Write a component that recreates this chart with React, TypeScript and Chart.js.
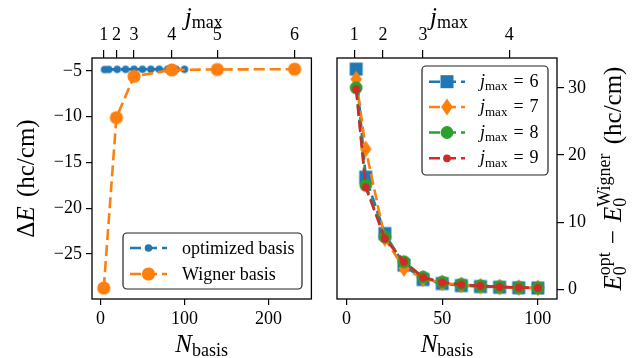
import React, { useEffect, useRef } from "react";
import { Chart, registerables } from "chart.js";
Chart.register(...registerables);

const SERIF = "'Liberation Serif', 'Times New Roman', 'DejaVu Serif', serif";
const BLUE = "#1f77b4";
const ORANGE = "#ff7f0e";
const GREEN = "#2ca02c";
const RED = "#d62728";

// ---------- Left panel data ----------
const optN = [5, 10, 20, 30, 40, 50, 60, 70, 80, 90, 100];
const optDeltaE = [-4.86, -4.85, -4.84, -4.84, -4.83, -4.83, -4.83, -4.83, -4.83, -4.83, -4.83];
const wignerN = [4, 19, 40, 85, 139, 231];
const wignerDeltaE = [-28.7, -10.1, -5.6, -4.9, -4.85, -4.82];
const jmaxTickN = [4, 19, 40, 85, 139, 231];
const jmaxTickLabels = ["1", "2", "3", "4", "5", "6"];
const leftXTicks = [0, 100, 200];
const leftYTicks = [-25, -20, -15, -10, -5];
const leftLegendLabels = ["optimized basis", "Wigner basis"];

// ---------- Right panel data ----------
const diffN = [5, 10, 20, 30, 40, 50, 60, 70, 80, 90, 100];
const diffJmax6 = [32.8, 16.7, 8.3, 3.6, 1.45, 0.85, 0.55, 0.4, 0.3, 0.22, 0.18];
const diffJmax7 = [31.3, 20.9, 7.6, 3.1, 1.6, 0.95, 0.65, 0.45, 0.33, 0.25, 0.2];
const diffJmax8 = [30.0, 15.5, 7.8, 4.1, 1.8, 1.05, 0.72, 0.5, 0.37, 0.27, 0.22];
const diffJmax9 = [29.8, 15.2, 7.55, 4.1, 1.75, 1.0, 0.7, 0.5, 0.35, 0.25, 0.2];
const rightXTicks = [0, 50, 100];
const rightYTicks = [0, 10, 20, 30];
const rightLegendValues = ["6", "7", "8", "9"];

const TICK_SIZE = 18;
const LABEL_SIZE = 25;
const LABEL_SUB = 18;

type P = { t?: string; sz?: number; it?: boolean; dy?: number; gap?: number; stack?: P[] };

function fnt(p: P) {
  return `${p.it ? "italic " : ""}${p.sz}px ${SERIF}`;
}
function pw(ctx: CanvasRenderingContext2D, p: P): number {
  if (p.gap != null) return p.gap;
  if (p.stack) return Math.max(...p.stack.map((q) => pw(ctx, q)));
  ctx.font = fnt(p);
  return ctx.measureText(p.t || "").width;
}
function drawPieces(ctx: CanvasRenderingContext2D, ps: P[], x: number, y: number) {
  for (const p of ps) {
    if (p.stack) {
      for (const q of p.stack) drawPieces(ctx, [q], x, y);
    } else if (p.t) {
      ctx.font = fnt(p);
      ctx.fillText(p.t, x, y + (p.dy || 0));
    }
    x += pw(ctx, p);
  }
}
function rich(ctx: CanvasRenderingContext2D, ps: P[], cx: number, cy: number, angle = 0, align = "center") {
  ctx.save();
  ctx.translate(cx, cy);
  ctx.rotate(angle);
  ctx.fillStyle = "#000";
  ctx.textBaseline = "alphabetic";
  ctx.textAlign = "left";
  const w = ps.reduce((s, p) => s + pw(ctx, p), 0);
  drawPieces(ctx, ps, align === "center" ? -w / 2 : 0, 0);
  ctx.restore();
}

type MK = "dotS" | "dotL" | "square" | "thinDiamond" | "circle" | "smallCircle";
function drawMarker(ctx: CanvasRenderingContext2D, kind: MK, x: number, y: number, color: string) {
  ctx.save();
  ctx.fillStyle = color;
  ctx.beginPath();
  switch (kind) {
    case "dotS":
      ctx.arc(x, y, 3.8, 0, Math.PI * 2);
      break;
    case "dotL":
      ctx.arc(x, y, 6.6, 0, Math.PI * 2);
      break;
    case "square":
      ctx.rect(x - 6.5, y - 6.5, 13, 13);
      break;
    case "thinDiamond":
      ctx.moveTo(x, y - 8.5);
      ctx.lineTo(x + 5.8, y);
      ctx.lineTo(x, y + 8.5);
      ctx.lineTo(x - 5.8, y);
      ctx.closePath();
      break;
    case "circle":
      ctx.arc(x, y, 6.4, 0, Math.PI * 2);
      break;
    case "smallCircle":
      ctx.arc(x, y, 3.9, 0, Math.PI * 2);
      break;
  }
  ctx.fill();
  ctx.restore();
}
function markerCanvas(kind: MK, color: string) {
  const c = document.createElement("canvas");
  c.width = 20;
  c.height = 20;
  const ctx = c.getContext("2d")!;
  drawMarker(ctx, kind, 10, 10, color);
  return c;
}

function frame(chart: any) {
  const { ctx, chartArea: a } = chart;
  ctx.save();
  ctx.strokeStyle = "#000";
  ctx.lineWidth = 1.3;
  ctx.strokeRect(a.left, a.top, a.right - a.left, a.bottom - a.top);
  ctx.restore();
}

function legendBox(ctx: CanvasRenderingContext2D, x: number, y: number, w: number, h: number) {
  ctx.save();
  ctx.fillStyle = "rgba(255,255,255,0.9)";
  ctx.strokeStyle = "#222";
  ctx.lineWidth = 1.2;
  ctx.beginPath();
  (ctx as any).roundRect(x, y, w, h, 4);
  ctx.fill();
  ctx.stroke();
  ctx.restore();
}
function legendLine(ctx: CanvasRenderingContext2D, x1: number, x2: number, y: number, color: string, kind: MK) {
  ctx.save();
  ctx.strokeStyle = color;
  ctx.lineWidth = 2.6;
  ctx.setLineDash([11, 5]);
  ctx.beginPath();
  ctx.moveTo(x1, y);
  ctx.lineTo(x2, y);
  ctx.stroke();
  ctx.restore();
  drawMarker(ctx, kind, (x1 + x2) / 2, y, color);
}

const fixedTicks = (vals: number[]) => (s: any) => {
  s.ticks = vals.filter((v) => v >= s.min && v <= s.max).map((v) => ({ value: v }));
};
const minusFmt = (v: any) => String(v).replace("-", "\u2212");

function tickFont() {
  return { family: SERIF, size: TICK_SIZE };
}

function axisCommon(tickLen: number) {
  return {
    grid: { drawOnChartArea: false, drawTicks: true, tickLength: tickLen, color: "#000", lineWidth: 1.2 },
    border: { display: false },
  };
}

const nBasisLabel: P[] = [
  { t: "N", it: true, sz: LABEL_SIZE },
  { t: "basis", sz: LABEL_SUB, dy: 4 },
];
const jmaxLabel: P[] = [
  { t: "j", it: true, sz: LABEL_SIZE },
  { t: "max", sz: LABEL_SUB, dy: 3 },
];

function LeftPanel() {
  const ref = useRef<HTMLCanvasElement>(null);
  useEffect(() => {
    const plugin = {
      id: "leftDecor",
      afterDraw(chart: any) {
        const ctx = chart.ctx as CanvasRenderingContext2D;
        const a = chart.chartArea;
        frame(chart);
        legendBox(ctx, 123, 233, 179, 56);
        legendLine(ctx, 130, 167, 248, BLUE, "dotS");
        legendLine(ctx, 130, 167, 274, ORANGE, "dotL");
        ctx.save();
        ctx.fillStyle = "#000";
        ctx.font = `${TICK_SIZE}px ${SERIF}`;
        ctx.textBaseline = "middle";
        ctx.fillText(leftLegendLabels[0], 182, 249);
        ctx.fillText(leftLegendLabels[1], 182, 275);
        ctx.restore();
        const cx = (a.left + a.right) / 2;
        rich(ctx, nBasisLabel, cx, 352);
        rich(ctx, jmaxLabel, cx + 2, 25);
        rich(
          ctx,
          [
            { t: "\u0394", sz: LABEL_SIZE },
            { t: "E", it: true, sz: LABEL_SIZE },
            { gap: 3 },
            { t: " (hc/cm)", sz: LABEL_SIZE },
          ],
          34,
          (a.top + a.bottom) / 2,
          -Math.PI / 2
        );
      },
    };
    const chart = new Chart(ref.current!, {
      type: "line",
      data: {
        datasets: [
          {
            label: leftLegendLabels[0],
            data: optN.map((n, i) => ({ x: n, y: optDeltaE[i] })),
            borderColor: BLUE,
            backgroundColor: BLUE,
            borderWidth: 2.6,
            borderDash: [11, 5],
            pointStyle: markerCanvas("dotS", BLUE) as any,
            pointRadius: 4,
            order: 2,
          },
          {
            label: leftLegendLabels[1],
            data: wignerN.map((n, i) => ({ x: n, y: wignerDeltaE[i] })),
            borderColor: ORANGE,
            backgroundColor: ORANGE,
            borderWidth: 2.6,
            borderDash: [11, 5],
            pointStyle: markerCanvas("dotL", ORANGE) as any,
            pointRadius: 6,
            order: 1,
          },
        ],
      },
      options: {
        responsive: false,
        devicePixelRatio: 1,
        animation: false,
        layout: { padding: { left: 0, right: 8, top: 0, bottom: 0 } },
        plugins: { legend: { display: false }, tooltip: { enabled: false } },
        scales: {
          x: {
            type: "linear",
            position: "bottom",
            min: -10,
            max: 251,
            afterBuildTicks: fixedTicks(leftXTicks),
            afterFit: (s: any) => {
              s.height = 59;
            },
            ticks: { font: tickFont(), color: "#000", padding: 3, maxRotation: 0, callback: minusFmt },
            ...axisCommon(6),
          },
          xTop: {
            type: "linear",
            position: "top",
            min: -10,
            max: 251,
            afterBuildTicks: fixedTicks(jmaxTickN),
            afterFit: (s: any) => {
              s.height = 58;
            },
            ticks: {
              font: tickFont(),
              color: "#000",
              padding: 4,
              maxRotation: 0,
              callback: (v: any) => jmaxTickLabels[jmaxTickN.indexOf(v)] ?? "",
            },
            ...axisCommon(8),
          },
          y: {
            type: "linear",
            position: "left",
            min: -29.9,
            max: -3.6,
            afterBuildTicks: fixedTicks(leftYTicks),
            afterFit: (s: any) => {
              s.width = 92;
            },
            ticks: { font: tickFont(), color: "#000", padding: 4, callback: minusFmt },
            ...axisCommon(6),
          },
        },
      },
      plugins: [plugin],
    } as any);
    return () => chart.destroy();
  }, []);
  return <canvas ref={ref} width={320} height={358} style={{ position: "absolute", left: 0, top: 0 }} />;
}

function RightPanel() {
  const ref = useRef<HTMLCanvasElement>(null);
  useEffect(() => {
    const series = [
      { vals: diffJmax6, color: BLUE, kind: "square" as MK, order: 4 },
      { vals: diffJmax7, color: ORANGE, kind: "thinDiamond" as MK, order: 3 },
      { vals: diffJmax8, color: GREEN, kind: "circle" as MK, order: 2 },
      { vals: diffJmax9, color: RED, kind: "smallCircle" as MK, order: 1 },
    ];
    const plugin = {
      id: "rightDecor",
      afterDraw(chart: any) {
        const ctx = chart.ctx as CanvasRenderingContext2D;
        const a = chart.chartArea;
        frame(chart);
        legendBox(ctx, 102, 66, 126, 109);
        const ys = [81.7, 107, 132.5, 158.3];
        series.forEach((s, i) => {
          legendLine(ctx, 109, 145, ys[i], s.color, s.kind);
          rich(
            ctx,
            [
              { t: "j", it: true, sz: TICK_SIZE },
              { t: "max", sz: 13, dy: 3.5 },
              { gap: 6 },
              { t: "=", sz: TICK_SIZE },
              { gap: 6 },
              { t: rightLegendValues[i], sz: TICK_SIZE },
            ],
            160,
            ys[i] + 5,
            0,
            "left"
          );
        });
        const cx = (a.left + a.right) / 2;
        rich(ctx, nBasisLabel, cx, 352);
        rich(ctx, jmaxLabel, cx + 2, 25);
        rich(
          ctx,
          [
            { t: "E", it: true, sz: LABEL_SIZE },
            {
              stack: [
                { t: "0", sz: LABEL_SUB, dy: 5 },
                { t: "opt", sz: LABEL_SUB, dy: -11 },
              ],
            },
            { gap: 8 },
            { t: "\u2212", sz: LABEL_SIZE },
            { gap: 8 },
            { t: "E", it: true, sz: LABEL_SIZE },
            {
              stack: [
                { t: "0", sz: LABEL_SUB, dy: 5 },
                { t: "Wigner", sz: LABEL_SUB, dy: -11 },
              ],
            },
            { gap: 3 },
            { t: " (hc/cm)", sz: LABEL_SIZE },
          ],
          301,
          (a.top + a.bottom) / 2,
          -Math.PI / 2
        );
      },
    };
    const chart = new Chart(ref.current!, {
      type: "line",
      data: {
        datasets: series.map((s, i) => ({
          label: "jmax = " + rightLegendValues[i],
          data: diffN.map((n, k) => ({ x: n, y: s.vals[k] })),
          borderColor: s.color,
          backgroundColor: s.color,
          borderWidth: 2.6,
          borderDash: [11, 5],
          pointStyle: markerCanvas(s.kind, s.color) as any,
          pointRadius: 6,
          order: s.order,
        })),
      },
      options: {
        responsive: false,
        devicePixelRatio: 1,
        animation: false,
        layout: { padding: { left: 17, right: 0, top: 0, bottom: 0 } },
        plugins: { legend: { display: false }, tooltip: { enabled: false } },
        scales: {
          x: {
            type: "linear",
            position: "bottom",
            min: -5,
            max: 110,
            afterBuildTicks: fixedTicks(rightXTicks),
            afterFit: (s: any) => {
              s.height = 59;
            },
            ticks: { font: tickFont(), color: "#000", padding: 3, maxRotation: 0 },
            ...axisCommon(6),
          },
          xTop: {
            type: "linear",
            position: "top",
            min: -5,
            max: 110,
            afterBuildTicks: fixedTicks(jmaxTickN),
            afterFit: (s: any) => {
              s.height = 58;
            },
            ticks: {
              font: tickFont(),
              color: "#000",
              padding: 4,
              maxRotation: 0,
              callback: (v: any) => jmaxTickLabels[jmaxTickN.indexOf(v)] ?? "",
            },
            ...axisCommon(8),
          },
          y: {
            type: "linear",
            position: "right",
            min: -1.45,
            max: 34.45,
            afterBuildTicks: fixedTicks(rightYTicks),
            afterFit: (s: any) => {
              s.width = 81;
            },
            ticks: { font: tickFont(), color: "#000", padding: 4 },
            ...axisCommon(7),
          },
        },
      },
      plugins: [plugin],
    } as any);
    return () => chart.destroy();
  }, []);
  return <canvas ref={ref} width={318} height={358} style={{ position: "absolute", left: 320, top: 0 }} />;
}

export default function App() {
  return (
    <div style={{ position: "fixed", left: 0, top: 0, width: 638, height: 358, background: "#fff", overflow: "hidden" }}>
      <LeftPanel />
      <RightPanel />
    </div>
  );
}
